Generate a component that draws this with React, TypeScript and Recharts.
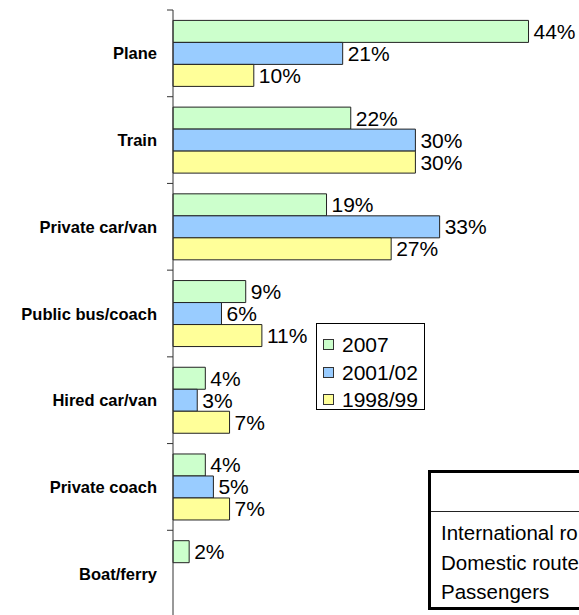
import React from 'react';
import { BarChart, Bar, XAxis, YAxis, Legend, LabelList } from 'recharts';

const categories = ['Plane', 'Train', 'Private car/van', 'Public bus/coach', 'Hired car/van', 'Private coach', 'Boat/ferry'];
const share2007 = [44, 22, 19, 9, 4, 4, 2];
const share2001 = [21, 30, 33, 6, 3, 5, null];
const share1998 = [10, 30, 27, 11, 7, 7, null];
// the table is cut off by the picture's right edge; only the visible part is kept
const tableRows = ['International ro', 'Domestic route', 'Passengers'];

const series = [
  { key: 'y2007', label: '2007', color: '#CCFFCC' },
  { key: 'y2001', label: '2001/02', color: '#99CCFF' },
  { key: 'y1998', label: '1998/99', color: '#FFFF99' },
];

const data = categories.map((c, i) => ({
  name: c,
  y2007: share2007[i],
  y2001: share2001[i],
  y1998: share1998[i],
}));

const FONT = '"Liberation Sans", Arial, sans-serif';
const W = 579;
const H = 630;
const MARGIN = { top: 10, right: 2, bottom: 13, left: 0 };
const AXIS_W = 173;
const BAND = (H - MARGIN.top - MARGIN.bottom) / categories.length;

const CategoryTick = ({ y, payload }: any) => (
  <g>
    <line x1={AXIS_W - 6} x2={AXIS_W} y1={y - BAND / 2} y2={y - BAND / 2} stroke="#333" />
    <text x={AXIS_W - 16} y={y} textAnchor="end" dominantBaseline="central"
      fontFamily={FONT} fontSize={16.5} fontWeight="bold" fill="#000">
      {payload.value}
    </text>
  </g>
);

const LegendBox = ({ payload }: any) => {
  // recharts reverses the items for vertical bar charts; keep the series order
  const items = series
    .map((s) => (payload || []).find((p: any) => p.value === s.label))
    .filter(Boolean);
  return (
    <div style={{
      border: '1px solid #000', background: '#fff', width: 109, height: 87,
      padding: '7px 0 0 6px', boxSizing: 'border-box', fontFamily: FONT,
    }}>
      {items.map((p: any) => (
        <div key={p.value} style={{ display: 'flex', alignItems: 'center', height: 27.5 }}>
          <span style={{
            width: 9, height: 9, background: p.color, border: '1px solid #333',
            display: 'inline-block', marginRight: 8,
          }} />
          <span style={{ fontSize: 21, color: '#000', lineHeight: 1 }}>{p.value}</span>
        </div>
      ))}
    </div>
  );
};

export default function App() {
  return (
    <div style={{ position: 'absolute', left: 0, top: 0, width: W, height: 615, overflow: 'hidden', background: '#fff' }}>
      <BarChart width={W} height={H} data={data} layout="vertical" margin={MARGIN}
        barCategoryGap="12%" barGap={0}>
        <XAxis type="number" domain={[0, 50]} hide />
        <YAxis
          type="category"
          dataKey="name"
          width={AXIS_W}
          axisLine={{ stroke: '#333' }}
          tickLine={false}
          tick={<CategoryTick />}
          interval={0}
        />
        <Legend
          layout="vertical"
          align="center"
          verticalAlign="middle"
          wrapperStyle={{ position: 'absolute', left: 316, top: 323, width: 109 }}
          content={<LegendBox />}
        />
        {series.map((s) => (
          <Bar key={s.key} dataKey={s.key} name={s.label} fill={s.color}
            stroke="#222" strokeWidth={1} isAnimationActive={false}>
            <LabelList dataKey={s.key} position="right" offset={5}
              formatter={(v: any) => (v == null ? '' : `${v}%`)}
              style={{ fontFamily: FONT, fontSize: 21, fill: '#000' }} />
          </Bar>
        ))}
      </BarChart>
      <div style={{
        position: 'absolute', left: 428, top: 470, width: 260, height: 140,
        border: '3px solid #000', boxSizing: 'border-box', background: '#fff', fontFamily: FONT,
      }}>
        <div style={{ height: 38, borderBottom: '1.5px solid #222' }} />
        <div style={{ paddingTop: 6, paddingLeft: 10 }}>
          {tableRows.map((r) => (
            <div key={r} style={{ fontSize: 20.5, lineHeight: '29.5px', whiteSpace: 'nowrap', color: '#000' }}>{r}</div>
          ))}
        </div>
      </div>
    </div>
  );
}
